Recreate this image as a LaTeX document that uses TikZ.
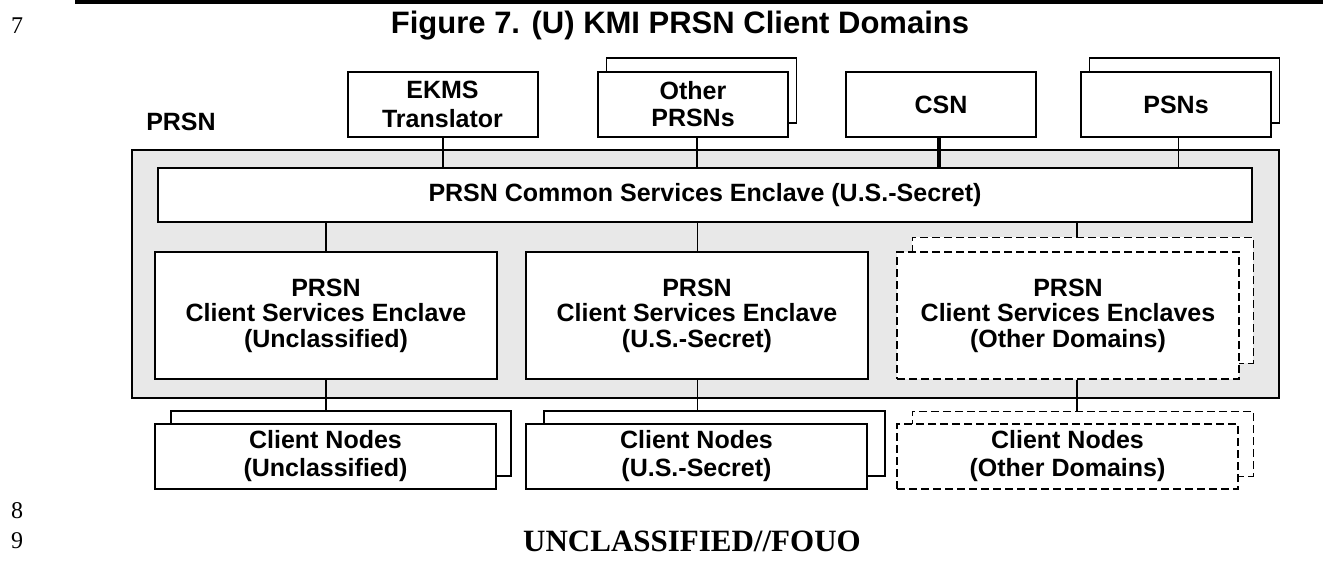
\documentclass[tikz,border=0pt]{standalone}
\usepackage{fontspec}
\setmainfont{Liberation Sans}
\newfontfamily\timesfont{Liberation Serif}
\usetikzlibrary{calc}
\definecolor{enclavegray}{RGB}{232,232,232}
\pgfdeclarelayer{bg}
\pgfsetlayers{bg,main}
\begin{document}
\begin{tikzpicture}[x=1pt,y=-1pt,
  box/.style={draw=black, line width=2pt, fill=white, inner sep=0pt, align=center,
    font=\fontsize{25}{27}\selectfont\bfseries},
  backbox/.style={draw=black, line width=1.7pt, fill=white, inner sep=0pt},
  dbox/.style={box, line width=2.2pt, dash pattern=on 8pt off 4pt},
  dbackbox/.style={backbox, line width=1pt, dash pattern=on 8pt off 4pt},
  thinlink/.style={line width=1pt},
  link/.style={line width=2pt},
  heavylink/.style={line width=4pt},
  linenum/.style={font=\timesfont\fontsize{24}{24}\selectfont},
]
\useasboundingbox (0,0) rectangle (1323,560);

% page header
\draw[line width=3.5pt] (75,2) -- (1323,2);
\node[linenum] (n7) at (17,26) {7};
\node (title) at (680,26) {\fontsize{31}{33}\selectfont\bfseries Figure 7. (U) KMI PRSN Client Domains};

% PRSN container
\begin{pgfonlayer}{bg}
  \node[draw=black, line width=2pt, fill=enclavegray, inner sep=0pt,
        minimum width=1147.6pt, minimum height=247.5pt] (prsn) at (705.5,273.75) {};
\end{pgfonlayer}
\node[font=\fontsize{25}{27}\selectfont\bfseries] (prsnlabel) at (181,122) {PRSN};

% external systems
\node[box, minimum width=190pt, minimum height=65pt, font=\fontsize{25}{29}\selectfont\bfseries]
  (ekms) at (442.5,104.5) {EKMS\\Translator};
\begin{pgfonlayer}{bg}
  \node[backbox, minimum width=190pt, minimum height=65pt] (otherback) at (701.5,90.5) {};
  \node[backbox, minimum width=190pt, minimum height=65pt] (psnback) at (1184.5,90.5) {};
\end{pgfonlayer}
\node[box, minimum width=190pt, minimum height=65pt, font=\fontsize{25}{27}\selectfont\bfseries]
  (other) at (693,104.5) {Other\\PRSNs};
\node[box, minimum width=190pt, minimum height=65pt] (csn) at (941,104.5) {CSN};
\node[box, minimum width=190pt, minimum height=65pt] (psn) at (1176,104.5) {PSNs};

% common services enclave
\node[box, minimum width=1094pt, minimum height=54pt] (common) at (705,195)
  {PRSN Common Services Enclave (U.S.-Secret)};

% client services enclaves
\tikzset{enclave/.style={minimum width=342pt, minimum height=127pt,
  font=\fontsize{25}{25.5}\selectfont\bfseries}}
\node[box, enclave] (encU) at (326,315.5) {PRSN\\Client Services Enclave\\(Unclassified)};
\node[box, enclave] (encS) at (697,315.5) {PRSN\\Client Services Enclave\\(U.S.-Secret)};
\begin{pgfonlayer}{bg}
  \node[dbackbox, minimum width=341pt, minimum height=126pt] (encOback) at (1082.5,300) {};
\end{pgfonlayer}
\node[dbox, enclave] (encO) at (1068,315.5) {PRSN\\Client Services Enclaves\\(Other Domains)};

% client nodes
\tikzset{client/.style={minimum width=341pt, minimum height=65pt,
  font=\fontsize{25}{28}\selectfont\bfseries}}
\begin{pgfonlayer}{bg}
  \node[backbox, minimum width=340pt, minimum height=65pt] (cliUback) at (341,443.5) {};
  \node[backbox, minimum width=341pt, minimum height=65pt] (cliSback) at (714.5,443.5) {};
  \node[dbackbox, minimum width=341pt, minimum height=65pt] (cliOback) at (1082.5,443.5) {};
\end{pgfonlayer}
\node[box, client] (cliU) at (325.5,456.5) {Client Nodes\\(Unclassified)};
\node[box, client] (cliS) at (696.5,456.5) {Client Nodes\\(U.S.-Secret)};
\node[dbox, client] (cliO) at (1067.5,456.5) {Client Nodes\\(Other Domains)};

% connectors
\coordinate (otherx) at (697,0);
\coordinate (csnx) at (939,0);
\coordinate (psnx) at (1178,0);
\coordinate (otherdom) at (1076.5,0);
\draw[link] (ekms.south) -- (ekms.south |- common.north);
\draw[link] (other.south -| otherx) -- (common.north -| otherx);
\draw[heavylink] (csn.south -| csnx) -- (common.north -| csnx);
\draw[thinlink] (psn.south -| psnx) -- (common.north -| psnx);

\draw[link] (common.south -| encU.north) -- (encU.north);
\draw[thinlink] (common.south -| encS.north) -- (encS.north);
\draw[link] (common.south -| otherdom) -- (encOback.north -| otherdom);

\draw[link] (encU.south) -- (encU.south |- cliUback.north);
\draw[thinlink] (encS.south) -- (encS.south |- cliSback.north);
\draw[link] (encO.south -| otherdom) -- (cliOback.north -| otherdom);

% page footer
\node[linenum] (n8) at (17,511) {8};
\node[linenum] (n9) at (17,541) {9};
\node (marking) at (692,541) {\timesfont\bfseries\fontsize{31}{31}\selectfont UNCLASSIFIED//FOUO};
\end{tikzpicture}
\end{document}
